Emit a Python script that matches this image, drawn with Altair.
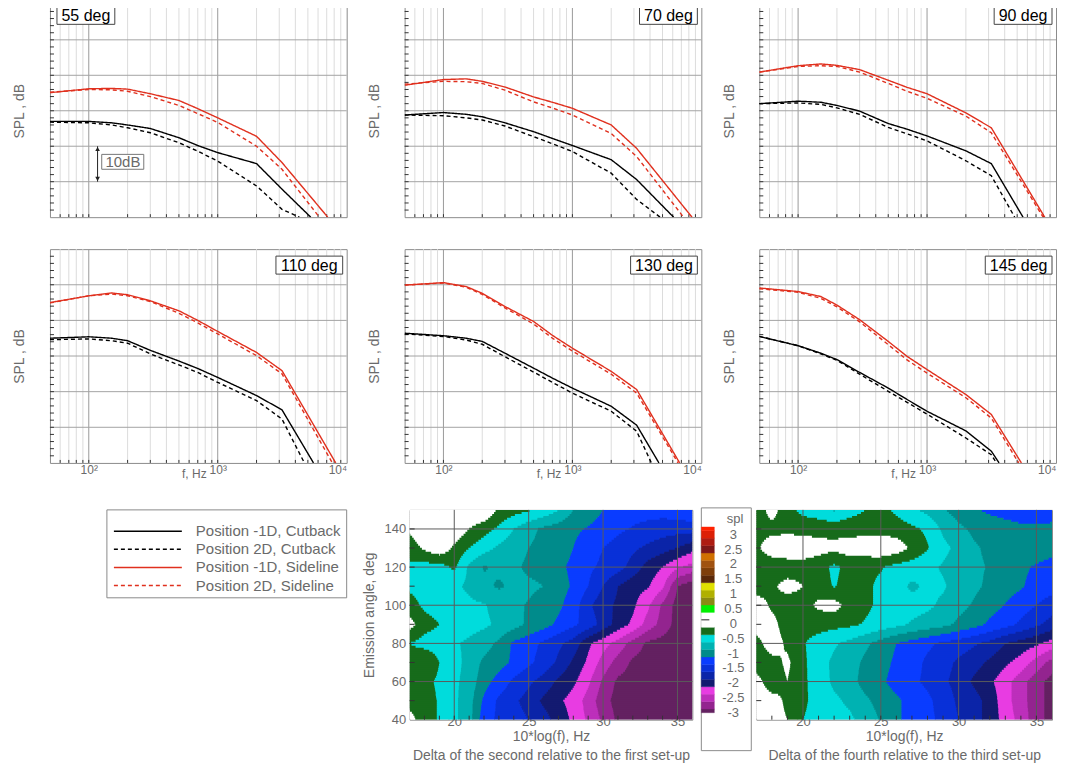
import altair as alt
import numpy as np
import pandas as pd

alt.data_transformers.disable_max_rows()

FONT = "Liberation Sans"
TXT = "#6a6a6a"
RED = "#e0301e"

# ---------------- spectra (relative SPL, dB) ----------------
ANGLES = [55, 70, 90, 110, 130, 145]
SERIES = ["Position -1D, Cutback", "Position 2D, Cutback",
          "Position -1D, Sideline", "Position 2D, Sideline"]
FREQS = [50, 100, 150, 200, 300, 500, 700, 1000, 2000, 3150]

SPL_55 = [[27.0, 27.0, 26.6, 26.0, 25.0, 22.4, 20.2, 18.2, 15.1, 7.9],
          [26.8, 26.6, 26.0, 25.2, 23.8, 21.0, 18.6, 15.8, 8.8, 2.2],
          [35.1, 36.2, 36.3, 36.1, 34.8, 32.9, 30.6, 28.0, 22.8, 15.4],
          [35.2, 36.0, 35.9, 35.5, 34.0, 31.5, 29.2, 26.7, 20.0, 13.5]]
END_55 = [5260, 4300, 7130, 6140]

SPL_70 = [[28.8, 29.5, 29.0, 28.3, 26.6, 24.1, 22.2, 20.2, 16.2, 10.6],
          [28.8, 28.6, 28.0, 27.4, 25.7, 22.7, 20.7, 18.5, 12.4, 5.0],
          [37.2, 38.8, 39.0, 38.3, 36.7, 33.9, 32.4, 30.7, 26.0, 19.4],
          [37.5, 38.3, 38.2, 37.7, 35.8, 32.5, 30.8, 28.8, 23.6, 17.1]]
END_70 = [6090, 4790, 8460, 7280]

SPL_90 = [[32.0, 32.7, 32.4, 31.5, 29.9, 26.4, 24.8, 22.9, 18.7, 15.1],
          [32.0, 32.2, 31.8, 30.8, 29.0, 25.3, 23.5, 21.5, 15.9, 11.7],
          [40.9, 42.7, 43.2, 42.8, 41.6, 38.6, 36.6, 34.8, 29.4, 25.2],
          [40.9, 42.5, 42.7, 42.5, 40.9, 37.7, 35.5, 33.5, 28.5, 23.8]]
END_90 = [5550, 4780, 8170, 7950]

SPL_110 = [[35.0, 35.4, 35.0, 34.3, 31.6, 28.6, 26.5, 24.0, 18.9, 14.9],
           [34.6, 34.8, 34.3, 33.6, 30.6, 27.5, 25.4, 22.6, 17.5, 12.3],
           [45.0, 46.9, 47.7, 47.2, 45.5, 42.7, 40.0, 36.9, 31.0, 25.9],
           [44.9, 46.9, 47.4, 46.9, 45.3, 42.0, 39.3, 36.2, 30.1, 25.0]]
END_110 = [5530, 4700, 8220, 7740]

SPL_130 = [[36.4, 35.7, 35.0, 34.1, 30.8, 26.6, 23.8, 21.0, 15.9, 10.6],
           [36.2, 35.5, 34.5, 33.3, 29.8, 25.5, 22.6, 19.6, 14.5, 8.9],
           [49.9, 50.6, 49.5, 47.6, 43.9, 39.7, 35.8, 32.2, 25.7, 20.6],
           [49.9, 50.5, 49.3, 47.3, 43.5, 39.0, 35.0, 31.4, 24.9, 19.6]]
END_130 = [4690, 4100, 6790, 6600]

SPL_145 = [[35.5, 32.9, 30.8, 29.0, 25.4, 21.0, 17.8, 14.5, 9.0, 3.3],
           [35.5, 32.9, 30.6, 28.8, 24.9, 20.1, 17.0, 13.7, 7.0, 2.3],
           [49.1, 48.1, 46.7, 44.3, 40.2, 34.1, 29.9, 26.2, 19.2, 13.6],
           [48.9, 47.9, 46.2, 43.8, 39.6, 33.2, 28.9, 25.2, 18.3, 12.6]]
END_145 = [3620, 3450, 5390, 5140]

SPL_ALL = [SPL_55, SPL_70, SPL_90, SPL_110, SPL_130, SPL_145]
END_ALL = [END_55, END_70, END_90, END_110, END_130, END_145]

# ---------------- contour deltas (rows: 150 deg -> 40 deg, cols: 17..36) ----------------
X_COLS = list(range(17, 37))
ANGLE_ROWS = [150, 140, 130, 120, 110, 100, 90, 80, 70, 60, 50, 40]

DELTA_1 = [
    [0, 0, 0, 0, 0, 0, -0.3, -0.4, -0.47, -0.58, -0.74, -1.0, -1.12, -1.25, -1.35, -1.4, -1.4, -1.4, -1.35, -1.25],
    [-0.2, 0, 0, -0.05, -0.25, -0.4, -0.55, -0.75, -0.92, -1.05, -1.12, -1.2, -1.27, -1.35, -1.45, -1.52, -1.58, -1.62, -1.65, -1.65],
    [-0.4, -0.2, -0.05, -0.3, -0.5, -0.65, -0.8, -0.9, -1.0, -1.08, -1.15, -1.25, -1.4, -1.5, -1.6, -1.7, -1.8, -1.9, -2.0, -2.15],
    [-0.55, -0.6, -0.6, -0.45, -0.8, -1.02, -0.95, -0.95, -1.05, -1.1, -1.2, -1.3, -1.45, -1.55, -1.65, -1.85, -2.1, -2.25, -2.45, -2.6],
    [-0.55, -0.6, -0.62, -0.7, -0.8, -0.95, -1.03, -0.95, -0.95, -1.0, -1.15, -1.28, -1.5, -1.75, -2.0, -2.15, -2.22, -2.45, -3.0, -3.15],
    [-0.4, -0.55, -0.6, -0.65, -0.7, -0.73, -0.85, -0.95, -1.02, -1.12, -1.2, -1.37, -1.7, -1.9, -2.05, -2.2, -2.45, -2.8, -3.1, -3.15],
    [-0.15, -0.4, -0.5, -0.6, -0.65, -0.7, -0.8, -0.9, -1.05, -1.15, -1.3, -1.45, -1.6, -1.85, -2.1, -2.3, -2.6, -2.85, -3.1, -3.15],
    [-0.5, -0.6, -0.62, -0.72, -0.8, -0.9, -1.05, -1.3, -1.4, -1.55, -1.7, -1.85, -2.2, -2.4, -2.6, -2.85, -3.05, -3.1, -3.15, -3.15],
    [-0.35, -0.25, -0.5, -0.65, -0.85, -1.05, -1.15, -1.3, -1.45, -1.6, -1.8, -2.05, -2.3, -2.6, -2.85, -3.05, -3.1, -3.15, -3.15, -3.15],
    [-0.4, -0.42, -0.55, -0.7, -0.85, -1.15, -1.35, -1.55, -1.7, -1.85, -2.05, -2.2, -2.45, -2.8, -3.05, -3.1, -3.15, -3.15, -3.15, -3.15],
    [-0.35, -0.4, -0.52, -0.7, -0.9, -1.3, -1.55, -1.7, -1.85, -2.05, -2.2, -2.35, -2.6, -2.9, -3.1, -3.15, -3.15, -3.15, -3.15, -3.15],
    [-0.15, -0.4, -0.52, -0.7, -0.9, -1.4, -1.55, -1.65, -1.75, -1.9, -2.1, -2.3, -2.55, -2.8, -3.05, -3.1, -3.15, -3.15, -3.15, -3.15],
]

DELTA_2 = [
    [-0.4, -0.15, -0.4, -0.58, -0.65, -0.78, -0.6, -0.5, -0.42, -0.55, -0.7, -0.82, -0.98, -1.1, -1.22, -1.3, -1.35, -1.38, -1.4, -1.35],
    [-0.33, -0.33, -0.33, -0.33, -0.34, -0.34, -0.35, -0.36, -0.35, -0.38, -0.45, -0.55, -0.8, -0.95, -1.05, -1.1, -1.15, -1.2, -1.2, -1.2],
    [-0.3, -0.1, -0.05, -0.1, -0.15, -0.18, -0.12, -0.08, -0.05, -0.1, -0.3, -0.48, -0.68, -0.82, -0.97, -1.05, -1.1, -1.05, -1.1, -1.15],
    [-0.4, -0.42, -0.4, -0.35, -0.4, -0.55, -0.42, -0.45, -0.48, -0.58, -0.62, -0.68, -0.78, -0.88, -0.95, -1.02, -1.1, -1.2, -1.28, -1.35],
    [-0.4, -0.3, -0.15, -0.25, -0.38, -0.52, -0.4, -0.45, -0.55, -0.65, -0.8, -0.7, -0.72, -0.85, -0.95, -1.05, -1.15, -1.22, -1.35, -1.4],
    [-0.1, -0.3, -0.4, -0.35, -0.2, -0.15, -0.35, -0.45, -0.55, -0.62, -0.65, -0.7, -0.8, -0.92, -1.03, -1.15, -1.26, -1.38, -1.5, -1.62],
    [-0.1, -0.15, -0.4, -0.42, -0.4, -0.42, -0.45, -0.52, -0.6, -0.68, -0.78, -0.85, -0.92, -1.05, -1.15, -1.3, -1.4, -1.55, -1.7, -1.85],
    [-0.35, -0.1, -0.3, -0.48, -0.6, -0.72, -0.82, -0.95, -1.1, -1.25, -1.35, -1.45, -1.55, -1.62, -1.72, -1.82, -2.0, -2.1, -2.2, -2.35],
    [-0.4, -0.35, -0.2, -0.45, -0.65, -0.8, -0.9, -1.05, -1.15, -1.3, -1.4, -1.55, -1.65, -1.8, -1.9, -2.05, -2.2, -2.35, -2.6, -2.85],
    [-0.15, -0.4, -0.25, -0.45, -0.62, -0.8, -0.9, -1.1, -1.2, -1.35, -1.45, -1.55, -1.7, -1.85, -2.05, -2.2, -2.4, -2.65, -2.9, -3.1],
    [-0.1, -0.15, -0.3, -0.45, -0.6, -0.7, -0.8, -0.95, -1.1, -1.2, -1.35, -1.45, -1.6, -1.8, -1.9, -2.1, -2.4, -2.65, -2.9, -3.1],
    [-0.1, -0.15, -0.25, -0.5, -0.6, -0.65, -0.7, -0.85, -1.02, -1.2, -1.35, -1.45, -1.55, -1.75, -1.9, -2.1, -2.35, -2.6, -2.9, -3.1],
]

# contour levels and colours (Tecplot-like)
LEVELS = [round(-3 + 0.25 * k, 2) for k in range(25)]
LEVEL_COLORS = ["#632161", "#93248f", "#bd2fbb", "#e83ce2", "#131a70", "#0b24a8",
                "#0930d8", "#0a3cff", "#008b8b", "#00b2b2", "#00dcdc", "#176b1b",
                "#ffffff", "#ffffff", "#00f000", "#8a8a12", "#b0b000", "#e0e000",
                "#5a2808", "#7e3e0a", "#a05210", "#d07000", "#7e1818", "#ae1c12",
                "#dc2006", "#ff2200"]
CB_LABELS = [3, 2.5, 2, 1.5, 1, 0.5, 0, -0.5, -1, -1.5, -2, -2.5, -3]

# ---------------- scales ----------------
XS = alt.Scale(type="log", domain=[50, 10000], nice=False)
YS = alt.Scale(domain=[0, 60], nice=False, zero=False)
CSCALE = alt.Scale(domain=SERIES, range=["black", "black", RED, RED])
DSCALE = alt.Scale(domain=SERIES, range=[[1, 0], [4, 3], [1, 0], [4, 3]])
THR = alt.Scale(type="threshold", domain=LEVELS, range=LEVEL_COLORS)
CX = alt.Scale(domain=[17, 36], nice=False, zero=False)
CY = alt.Scale(domain=[40, 150], nice=False, zero=False)

MINOR_F = [m * 10 ** e for e in (1, 2, 3) for m in range(2, 10) if 50 < m * 10 ** e < 10000]
MAJOR_F = [100, 1000]
LEFT_EDGE = -43  # common left extent of every row (keeps rows aligned)

rows = []
for ang, spl, ends in zip(ANGLES, SPL_ALL, END_ALL):
    for s, vals, fend in zip(SERIES, spl, ends):
        for f, v in zip(FREQS, vals):
            rows.append({"angle": ang, "series": s, "f": f, "db": v})
        rows.append({"angle": ang, "series": s, "f": fend, "db": 0.0})
lines_df = pd.DataFrame(rows)


def edge_marker(H):
    return alt.Chart(pd.DataFrame({"a": [0]})).mark_rect(fill="white", opacity=0.01).encode(
        x=alt.value(LEFT_EDGE), x2=alt.value(LEFT_EDGE + 1), y=alt.value(0), y2=alt.value(H))


def spectrum_panel(i):
    ang = ANGLES[i]
    bottom = i >= 3
    W, H = 297, (214 if bottom else 213)
    if bottom:
        xaxis = alt.Axis(values=[100, 1000, 10000],
                         labelExpr="datum.value == 100 ? '10²' : datum.value == 1000 ? '10³' : '10⁴'",
                         ticks=False, tickSize=0, domain=False, grid=False, labelColor=TXT,
                         labelFontSize=12, labelPadding=2, labelFont=FONT, title="f, Hz",
                         titleColor=TXT, titleFontSize=12, titleFontWeight="normal",
                         titleFont=FONT, titlePadding=-7, titleX=144)
    else:
        xaxis = None
    yaxis = alt.Axis(labels=False, ticks=False, domain=False, grid=False, title="SPL , dB",
                     titleColor=TXT, titleFontSize=14, titleFontWeight="normal",
                     titleFont=FONT, titlePadding=23)

    def X(field="f"):
        return alt.X(f"{field}:Q", scale=XS, axis=xaxis)

    def Y(field="db"):
        return alt.Y(f"{field}:Q", scale=YS, axis=yaxis)

    minor = alt.Chart(pd.DataFrame({"f": MINOR_F})).mark_rule(color="#dcdcdc").encode(x=X())
    major = alt.Chart(pd.DataFrame({"f": MAJOR_F})).mark_rule(color="#9a9a9a").encode(x=X())
    hgrid = alt.Chart(pd.DataFrame({"db": [10, 20, 30, 40, 50]})).mark_rule(color="#a4a4a4").encode(y=Y())
    btick = alt.Chart(pd.DataFrame({"f": MINOR_F + MAJOR_F})).mark_rule(color="#333333").encode(
        x=X(), y=alt.value(H), y2=alt.value(H - 3))
    ltick = alt.Chart(pd.DataFrame({"db": list(range(2, 60, 2))})).mark_rule(color="#333333").encode(
        y=Y(), x=alt.value(0), x2=alt.value(4))
    lines = alt.Chart(lines_df[lines_df.angle == ang]).mark_line(strokeWidth=1.4, clip=True).encode(
        x=X(), y=Y(),
        color=alt.Color("series:N", scale=CSCALE, legend=None),
        strokeDash=alt.StrokeDash("series:N", scale=DSCALE, legend=None),
        detail="series:N")

    label = f"{ang} deg"
    bw = 8.9 * (len(label) - 1) + 13.4
    x0 = 7 if i == 0 else 293 - bw
    y0 = 7 if bottom else 2
    lab_df = pd.DataFrame({"t": [label]})
    box = alt.Chart(lab_df).mark_rect(fill="white", stroke="#444444", strokeWidth=1).encode(
        x=alt.value(x0), x2=alt.value(x0 + bw), y=alt.value(y0), y2=alt.value(y0 + 18))
    btxt = alt.Chart(lab_df).mark_text(fontSize=16, color="black", font=FONT,
                                       align="center", baseline="middle").encode(
        x=alt.value(x0 + bw / 2), y=alt.value(y0 + 9.5), text="t:N")

    layers = [minor, major, hgrid, btick, ltick, lines, box, btxt]

    if i == 0:
        arr = alt.Chart(pd.DataFrame({"f": [117], "lo": [10], "hi": [20]})).mark_rule(
            color="#222222").encode(x=X(), y=Y("lo"), y2="hi:Q")
        heads = alt.Chart(pd.DataFrame({"f": [117, 117], "db": [10.8, 19.2],
                                        "shp": ["triangle-down", "triangle-up"]})).mark_point(
            filled=True, size=22, color="#222222", opacity=1).encode(
            x=X(), y=Y(), shape=alt.Shape("shp:N", scale=None, legend=None))
        b10 = alt.Chart(pd.DataFrame({"f0": [126], "f1": [267], "d0": [13.5], "d1": [17.7]})).mark_rect(
            fill="white", stroke="#777777").encode(x=X("f0"), x2="f1:Q", y=Y("d0"), y2="d1:Q")
        t10 = alt.Chart(pd.DataFrame({"f": [184], "db": [15.6], "t": ["10dB"]})).mark_text(
            fontSize=15, color=TXT, font=FONT, baseline="middle").encode(x=X(), y=Y(), text="t:N")
        layers += [arr, heads, b10, t10]
    if i in (0, 3):
        layers.append(edge_marker(H))

    return alt.layer(*layers).properties(width=W, height=H)


def raster(grid):
    """Fine bilinear raster of the measured grid, merged into horizontal runs of one level band.
    Each run overlaps the next run / row slightly (drawn later on top) to avoid seams."""
    g = np.array(grid, dtype=float)[::-1]
    gx = np.array(X_COLS, dtype=float)
    gy = np.array(ANGLE_ROWS[::-1], dtype=float)
    nx, ny = 760, 105
    sx, sy = 19 / nx, 110 / ny
    x0 = 17 + sx * np.arange(nx)
    y0 = 40 + sy * np.arange(ny)
    cx = x0 + sx / 2
    cy = y0 + sy / 2
    ix = np.clip(np.searchsorted(gx, cx, side="right") - 1, 0, len(gx) - 2)
    iy = np.clip(np.searchsorted(gy, cy, side="right") - 1, 0, len(gy) - 2)
    tx = ((cx - gx[ix]) / (gx[ix + 1] - gx[ix]))[None, :]
    ty = ((cy - gy[iy]) / (gy[iy + 1] - gy[iy]))[:, None]
    v = (g[np.ix_(iy, ix)] * (1 - tx) * (1 - ty) + g[np.ix_(iy, ix + 1)] * tx * (1 - ty)
         + g[np.ix_(iy + 1, ix)] * (1 - tx) * ty + g[np.ix_(iy + 1, ix + 1)] * tx * ty)
    band = np.digitize(v, LEVELS)
    recs = []
    for r in range(ny):
        b = band[r]
        cuts = np.flatnonzero(np.diff(b)) + 1
        starts = np.concatenate([[0], cuts])
        ends = np.concatenate([cuts, [nx]])
        for s, e in zip(starts, ends):
            run = v[r, s:e]
            k = int(np.argmin(np.abs(run - run.mean())))
            recs.append((round(x0[s], 4), round(min(17 + sx * e + 0.03, 36), 4),
                         round(y0[r], 4), round(min(y0[r] + 1.6 * sy, 150), 4),
                         float(run[k])))
    return pd.DataFrame(recs, columns=["x0", "x1", "y0", "y1", "v"])


def contour_panel(grid, caption, W, with_y):
    H = 210
    xaxis = alt.Axis(values=[20, 25, 30, 35], ticks=False, tickSize=0, domain=False, grid=False,
                     labelColor=TXT, labelFontSize=13, labelPadding=-4, labelFont=FONT,
                     title=["10*log(f), Hz", caption], titleColor=TXT, titleFontSize=14,
                     titleFontWeight="normal", titleFont=FONT, titleLineHeight=19, titlePadding=1)
    if with_y:
        yaxis = alt.Axis(values=[40, 60, 80, 100, 120, 140], ticks=False, tickSize=0, domain=False,
                         grid=False, labelColor=TXT, labelFontSize=13, labelPadding=4, labelFont=FONT,
                         title="Emission angle, deg", titleColor=TXT, titleFontSize=14,
                         titleFontWeight="normal", titleFont=FONT, titlePadding=7)
    else:
        yaxis = None
    cells = alt.Chart(raster(grid)).mark_rect(strokeWidth=0, clip=True).encode(
        x=alt.X("x0:Q", scale=CX, axis=xaxis), x2="x1:Q",
        y=alt.Y("y0:Q", scale=CY, axis=yaxis), y2="y1:Q",
        fill=alt.Fill("v:Q", scale=THR, legend=None))
    vg = alt.Chart(pd.DataFrame({"x0": [20, 25, 30, 35]})).mark_rule(color="#5a5a5a").encode(
        x=alt.X("x0:Q", scale=CX, axis=xaxis))
    hg = alt.Chart(pd.DataFrame({"y0": [60, 80, 100, 120, 140]})).mark_rule(color="#5a5a5a").encode(
        y=alt.Y("y0:Q", scale=CY, axis=yaxis))
    bt = alt.Chart(pd.DataFrame({"x0": list(range(18, 36))})).mark_rule(color="#333333").encode(
        x=alt.X("x0:Q", scale=CX, axis=xaxis), y=alt.value(H), y2=alt.value(H - 4))
    lt = alt.Chart(pd.DataFrame({"y0": list(range(50, 150, 10))})).mark_rule(color="#333333").encode(
        y=alt.Y("y0:Q", scale=CY, axis=yaxis), x=alt.value(0), x2=alt.value(5))
    return alt.layer(cells, vg, hg, bt, lt).properties(width=W, height=H)


def colorbar():
    lo = [-3.125] + LEVELS
    hi = LEVELS + [3.125]
    cb = pd.DataFrame({"lo": lo, "hi": hi, "mid": [(a + b) / 2 for a, b in zip(lo, hi)]})
    sc = alt.Scale(domain=[-3.36, 3.70], nice=False, zero=False)
    frame = alt.Chart(pd.DataFrame({"a": [0]})).mark_rect(
        fill="white", stroke="#8c8c8c", strokeWidth=1).encode(
        x=alt.value(4), x2=alt.value(54), y=alt.value(-2), y2=alt.value(241))
    bars = alt.Chart(cb).mark_rect(strokeWidth=0.4).encode(
        y=alt.Y("lo:Q", scale=sc, axis=None), y2="hi:Q",
        x=alt.value(4), x2=alt.value(17),
        fill=alt.Fill("mid:Q", scale=THR, legend=None),
        stroke=alt.Stroke("mid:Q", scale=THR, legend=None))
    labs = alt.Chart(pd.DataFrame({"v": CB_LABELS, "t": [f"{v:g}" for v in CB_LABELS]})).mark_text(
        fontSize=13, color=TXT, font=FONT, align="center", baseline="middle", dy=4).encode(
        y=alt.Y("v:Q", scale=sc, axis=None), x=alt.value(36), text="t:N")
    zero = alt.Chart(pd.DataFrame({"v": [0]})).mark_rule(color="#222222").encode(
        y=alt.Y("v:Q", scale=sc, axis=None), x=alt.value(4), x2=alt.value(12))
    spl = alt.Chart(pd.DataFrame({"t": ["spl"]})).mark_text(
        fontSize=13, color=TXT, font=FONT, align="right", baseline="middle").encode(
        x=alt.value(46), y=alt.value(9), text="t:N")
    return alt.layer(frame, bars, zero, labs, spl).properties(
        width=54, height=210, view=alt.ViewBackground(strokeOpacity=0))


def legend_box():
    leg = pd.DataFrame({"series": SERIES, "ypos": [21.3 + 18.15 * k for k in range(4)]})
    frame = alt.Chart(pd.DataFrame({"a": [0]})).mark_rect(
        fill="white", stroke="#8a8a8a", strokeWidth=1).encode(
        x=alt.value(57), x2=alt.value(297), y=alt.value(0), y2=alt.value(88))
    samples = alt.Chart(leg).mark_rule(strokeWidth=1.5).encode(
        x=alt.value(64), x2=alt.value(132),
        y=alt.Y("ypos:Q", scale=None, axis=None),
        color=alt.Color("series:N", scale=CSCALE, legend=None),
        strokeDash=alt.StrokeDash("series:N", scale=DSCALE, legend=None))
    texts = alt.Chart(leg).mark_text(align="left", baseline="middle", fontSize=15,
                                     color=TXT, font=FONT).encode(
        x=alt.value(146), y=alt.Y("ypos:Q", scale=None, axis=None), text="series:N")
    return alt.layer(frame, samples, texts, edge_marker(210)).properties(
        width=355, height=210, view=alt.ViewBackground(strokeOpacity=0))


p = [spectrum_panel(i) for i in range(6)]
row1 = alt.hconcat(p[0], p[1], p[2], spacing=58, bounds="flush")
row2 = alt.hconcat(p[3], p[4], p[5], spacing=58, bounds="flush")

left_c = contour_panel(DELTA_1, "Delta of the second relative to the first set-up", 283, True)
right_c = contour_panel(DELTA_2, "Delta of the fourth relative to the third set-up", 296, False)
row3 = alt.hconcat(legend_box(), left_c, colorbar(), right_c, spacing=5, bounds="flush")

chart = alt.vconcat(alt.vconcat(row1, row2, spacing=30), row3, spacing=26).properties(
    padding={"left": -2, "top": -5, "right": 4, "bottom": 0}
).configure(font=FONT).configure_view(stroke="#8c8c8c", strokeWidth=1)

chart.save("out.html", embed_options={"renderer": "svg", "actions": False})
